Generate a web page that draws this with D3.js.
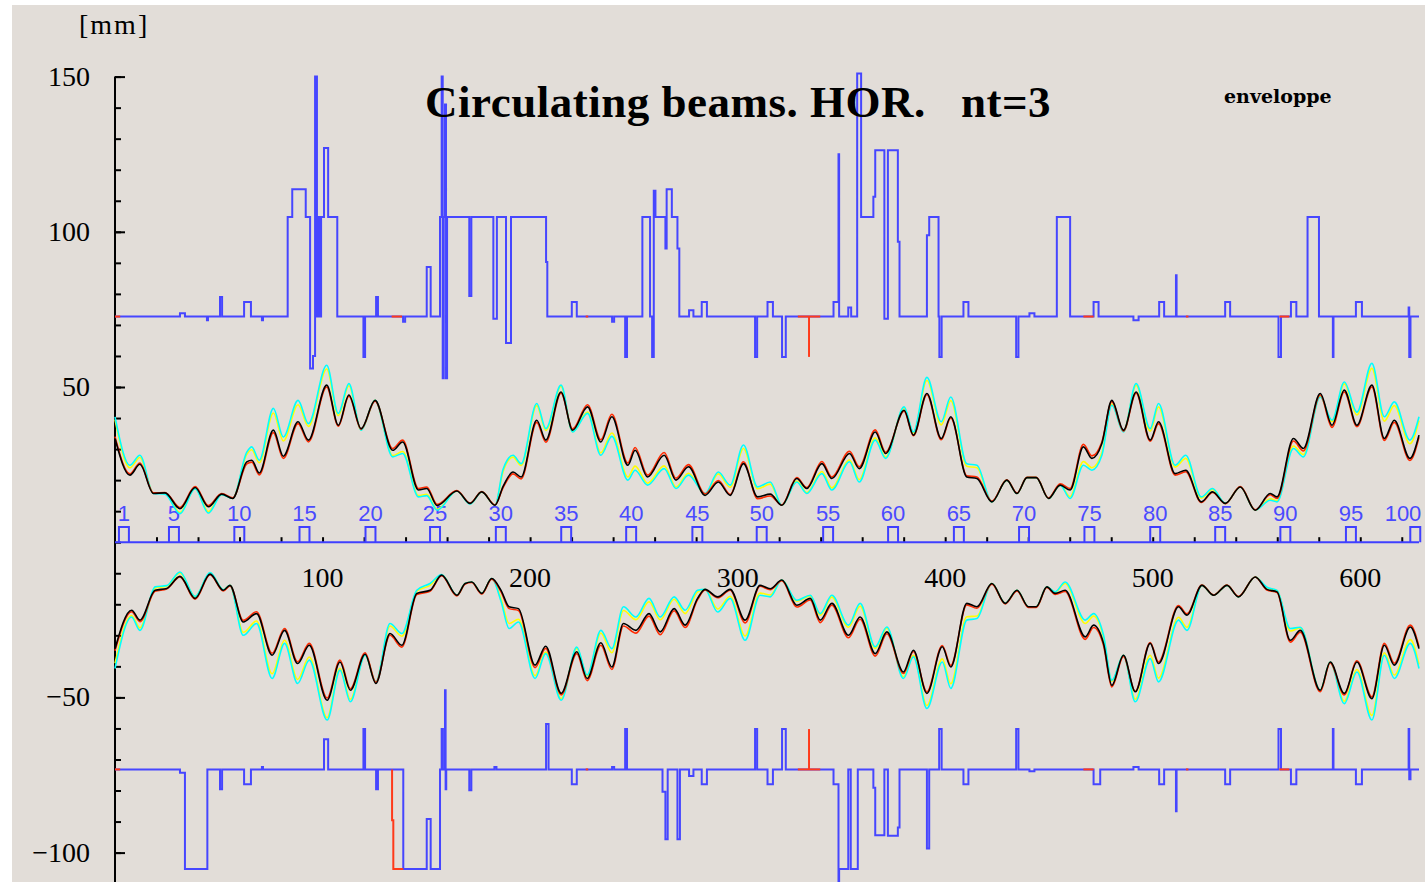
<!DOCTYPE html>
<meta charset="utf-8">
<head>
  <style>
    body { margin: 0; background: #ffffff; }
    .chart text { font-family: "Liberation Serif", "Times New Roman", serif; }
    .elem text { font-family: "Liberation Sans", Arial, sans-serif; }
  </style>
</head>
<body>
  <div class="chart"></div>
  <script src="https://d3js.org/d3.v7.min.js"></script>
  <script>

    // ---- data (positions in m, values in mm) ----
    var sUp = [0, 7.2, 12.0, 18.5, 24.1, 31.3, 38.6, 45.0, 51.4, 56.7, 63.5, 65.9, 69.5, 76.3, 81.1, 88.2, 93.2, 102.0, 107.6, 112.7,
      118.6, 125.3, 133.8, 138.6, 146.2, 150.2, 155.2, 164.7, 171.1, 176.7, 183.1, 187.0, 191.8, 195.7, 203.2, 207.6, 214.9, 220.5, 227.7, 234.1,
      239.4, 247.1, 250.6, 256.6, 264.6, 270.3, 276.3, 284.3, 290.7, 296.4, 302.8, 309.6, 315.7, 321.3, 328.5, 333.3, 340.6, 345.4, 353.9, 358.6,
      366.3, 371.3, 380.2, 384.7, 391.2, 398.1, 402.7, 410.4, 415.3, 422.5, 429.7, 434.6, 439.4, 443.9, 449.8, 455.4, 460.2, 466.6, 470.7, 475.5,
      480.3, 485.9, 492.0, 498.8, 502.8, 510.8, 515.9, 523.4, 528.8, 535.0, 542.2, 549.4, 556.6, 559.9, 567.8, 572.6, 580.7, 586.4, 592.3, 598.4,
      605.6, 611.6, 616.4, 623.9, 628.3];
    var upBlack = [33.4, 21.6, 25.1, 15.7, 15.9, 10.8, 17.6, 11.4, 15.5, 14.1, 25.9, 26.4, 22.3, 36.1, 27.7, 38.8, 32.9, 50.6, 37.7, 47.4,
      36.6, 45.7, 29.6, 32.3, 16.8, 17.3, 11.8, 16.5, 12.5, 16.2, 11.9, 18.0, 22.6, 21.0, 39.3, 32.9, 48.4, 36.1, 43.6, 32.3,
      40.4, 24.8, 29.6, 21.0, 28.0, 20.0, 24.3, 15.1, 19.4, 15.1, 25.3, 14.6, 15.5, 11.9, 20.5, 17.3, 25.3, 20.5, 28.6, 23.7,
      35.5, 28.6, 42.5, 34.5, 47.9, 33.4, 40.4, 21.0, 20.5, 13.0, 20.0, 15.7, 20.8, 20.8, 14.1, 18.4, 16.8, 30.7, 27.0, 31.8,
      45.7, 36.1, 48.4, 32.9, 38.8, 22.1, 23.2, 13.0, 16.2, 12.5, 17.8, 10.3, 15.7, 14.6, 33.4, 30.2, 47.9, 37.7, 49.0, 37.7,
      50.6, 33.4, 39.3, 27.0, 34.5];
    var upRed = [34.0, 22.0, 25.5, 15.9, 16.0, 11.2, 17.9, 11.8, 15.7, 14.3, 25.2, 25.8, 21.7, 35.3, 27.0, 38.2, 32.3, 50.0, 37.4, 47.0,
      36.4, 45.4, 30.2, 32.9, 17.3, 17.8, 12.2, 16.6, 12.6, 16.3, 12.0, 17.6, 22.0, 20.4, 38.6, 32.2, 48.0, 36.5, 44.3, 33.0,
      41.2, 25.5, 30.5, 21.6, 28.9, 20.6, 25.0, 15.6, 19.9, 15.4, 25.9, 14.0, 14.9, 12.0, 20.8, 17.6, 26.0, 21.0, 29.3, 24.3,
      36.2, 29.0, 42.2, 34.3, 47.5, 33.0, 40.0, 21.4, 21.0, 13.2, 20.1, 15.8, 20.9, 20.9, 14.2, 18.8, 17.3, 31.5, 27.8, 32.3,
      45.3, 35.8, 48.0, 32.5, 38.2, 21.6, 22.7, 12.8, 16.0, 12.4, 17.9, 10.4, 15.3, 14.1, 32.6, 29.4, 47.4, 37.0, 48.4, 37.2,
      50.0, 32.8, 38.6, 26.3, 33.8];
    var upYellow = [39.5, 24.0, 27.3, 15.8, 15.7, 9.6, 17.3, 9.9, 15.4, 14.1, 28.3, 29.8, 25.6, 41.6, 32.6, 44.3, 37.3, 55.8, 40.8, 50.4,
      36.2, 45.7, 27.9, 29.2, 15.0, 15.4, 10.6, 16.5, 12.4, 16.2, 11.9, 22.8, 27.4, 24.7, 44.0, 36.0, 50.2, 35.6, 41.9, 28.8,
      35.2, 21.0, 24.5, 19.0, 24.6, 17.8, 22.2, 15.5, 22.0, 17.7, 30.2, 17.2, 18.7, 11.9, 19.7, 16.0, 22.8, 17.5, 26.5, 20.2,
      33.6, 27.4, 43.3, 35.2, 52.1, 37.8, 45.6, 24.5, 24.0, 13.0, 20.0, 15.7, 20.8, 20.8, 14.1, 18.4, 14.7, 26.0, 24.0, 28.8,
      44.5, 35.7, 50.5, 35.8, 43.6, 24.2, 27.0, 14.2, 17.0, 12.5, 17.8, 10.3, 14.0, 13.3, 31.0, 28.2, 47.0, 38.8, 51.0, 41.0,
      56.0, 39.0, 44.0, 31.7, 39.2];
    var upCyan = [40.4, 24.8, 28.0, 15.7, 15.5, 9.2, 17.2, 9.4, 15.3, 14.1, 29.0, 30.7, 26.4, 43.1, 33.9, 45.7, 38.2, 57.0, 41.5, 51.1,
      36.1, 45.7, 27.5, 28.6, 14.6, 15.0, 10.3, 16.5, 12.3, 16.2, 11.9, 23.5, 28.0, 25.3, 44.7, 36.6, 50.6, 35.5, 41.5, 28.0,
      34.1, 20.0, 23.2, 18.4, 23.7, 17.3, 21.6, 15.7, 22.6, 18.4, 31.3, 17.8, 19.4, 11.9, 19.4, 15.7, 22.1, 16.8, 25.9, 19.4,
      32.9, 27.0, 43.6, 35.5, 53.1, 38.8, 46.8, 25.3, 24.8, 13.0, 20.0, 15.7, 20.8, 20.8, 14.1, 18.4, 14.1, 24.8, 23.2, 28.0,
      44.1, 35.5, 51.1, 36.6, 44.7, 24.8, 28.0, 14.6, 17.3, 12.5, 17.8, 10.3, 13.5, 13.0, 30.2, 27.5, 46.8, 39.3, 51.6, 41.9,
      57.6, 40.4, 45.2, 32.9, 40.4];

    var sLow = [0, 8.0, 12.0, 19.3, 24.9, 31.3, 38.6, 45.8, 52.2, 55.4, 61.8, 68.2, 75.7, 81.7, 88.0, 93.6, 102.2, 108.4, 113.4, 120.5,
      125.7, 132.5, 138.2, 145.4, 151.8, 157.4, 164.7, 168.7, 171.9, 176.7, 181.5, 186.0, 189.9, 194.4, 202.4, 207.5, 215.0, 222.5, 227.5, 234.1,
      239.4, 245.0, 251.0, 257.3, 262.7, 269.4, 274.7, 280.7, 284.3, 290.4, 296.4, 303.6, 310.8, 315.7, 321.3, 328.5, 335.0, 339.8, 345.4, 353.4,
      359.0, 366.3, 371.9, 379.9, 384.7, 391.2, 398.6, 402.7, 410.4, 415.3, 422.5, 428.9, 434.6, 440.1, 443.9, 449.0, 453.0, 457.8, 467.5, 471.5,
      476.3, 480.3, 485.9, 491.6, 498.8, 502.8, 512.4, 516.5, 523.7, 529.3, 535.8, 541.3, 549.4, 555.0, 559.9, 566.3, 571.1, 580.7, 585.5, 592.3,
      598.4, 605.6, 611.6, 616.4, 624.1, 628.3];
    var lowBlack = [-34.3, -21.9, -25.1, -15.5, -14.9, -11.0, -18.1, -10.3, -15.5, -13.9, -25.7, -23.0, -36.4, -28.4, -39.1, -33.2, -50.9, -38.6, -47.7, -36.1,
      -45.5, -29.4, -33.2, -16.5, -15.5, -10.6, -17.1, -13.3, -12.8, -16.5, -11.7, -15.5, -20.8, -21.4, -39.6, -33.5, -48.7, -35.3, -43.9, -32.4,
      -40.2, -26.2, -28.4, -23.0, -28.9, -21.4, -26.7, -18.1, -15.2, -17.6, -15.2, -25.1, -13.9, -15.0, -12.2, -20.3, -18.1, -25.1, -19.7, -30.0,
      -24.1, -35.9, -28.9, -41.8, -34.8, -48.7, -33.7, -40.2, -19.7, -20.8, -13.3, -19.7, -15.5, -20.8, -20.8, -14.4, -16.5, -15.5, -30.5, -26.7,
      -32.6, -46.1, -36.4, -48.2, -32.6, -39.1, -20.8, -23.5, -13.9, -17.1, -13.9, -17.6, -11.2, -15.2, -16.0, -31.6, -28.4, -47.7, -38.6, -48.7,
      -38.6, -50.4, -33.2, -39.6, -27.3, -34.3];
    var lowRed = [-35.0, -22.4, -25.6, -15.8, -15.1, -11.2, -18.4, -10.5, -15.7, -14.1, -25.2, -22.4, -35.8, -27.8, -38.5, -32.6, -50.2, -38.0, -47.2, -35.6,
      -45.1, -30.0, -33.8, -16.9, -15.8, -10.8, -17.3, -13.5, -13.0, -16.7, -11.9, -16.0, -21.4, -22.0, -40.4, -34.2, -49.2, -35.9, -44.6, -33.2,
      -41.0, -27.0, -29.3, -23.8, -29.8, -22.1, -27.5, -18.5, -15.4, -17.9, -15.5, -26.0, -14.2, -15.3, -12.4, -20.9, -18.6, -25.9, -20.3, -30.8,
      -24.8, -36.7, -29.5, -42.3, -35.2, -48.2, -33.3, -39.7, -20.2, -21.3, -13.5, -19.9, -15.7, -21.0, -21.0, -14.6, -16.8, -15.9, -31.3, -27.5,
      -33.3, -46.6, -36.8, -48.0, -32.3, -38.6, -20.4, -23.1, -13.8, -17.0, -13.8, -17.5, -11.2, -15.4, -16.2, -32.2, -29.0, -48.2, -38.9, -49.2,
      -38.2, -49.8, -32.6, -39.0, -26.7, -33.7];
    var lowYellow = [-39.0, -23.6, -27.6, -14.8, -14.2, -9.9, -17.6, -9.9, -15.4, -13.9, -29.0, -25.4, -42.4, -31.6, -44.2, -37.0, -56.5, -40.6, -50.6, -36.3,
      -45.1, -27.0, -30.3, -15.8, -13.9, -10.5, -17.1, -13.3, -12.8, -16.5, -11.7, -18.2, -26.2, -24.8, -43.0, -35.4, -50.4, -34.2, -43.1, -29.3,
      -35.6, -22.0, -25.0, -19.2, -25.0, -18.4, -23.0, -16.0, -15.2, -21.5, -17.4, -30.2, -16.4, -17.0, -12.2, -19.0, -17.3, -23.5, -17.7, -27.4,
      -20.6, -34.2, -27.7, -43.4, -36.4, -52.6, -37.6, -45.6, -24.0, -23.8, -13.3, -19.7, -15.5, -20.8, -20.8, -14.4, -16.1, -13.3, -26.2, -23.8,
      -30.6, -44.8, -36.4, -50.6, -36.4, -43.8, -24.2, -27.4, -13.9, -17.1, -13.9, -17.6, -11.2, -14.7, -15.6, -28.6, -27.6, -47.7, -38.6, -51.2,
      -41.0, -55.8, -35.6, -42.8, -31.4, -39.4];
    var lowCyan = [-40.7, -24.1, -28.4, -14.4, -14.0, -9.6, -17.5, -9.8, -15.3, -13.9, -30.0, -26.2, -43.9, -32.6, -45.5, -38.0, -57.3, -41.2, -51.4, -36.4,
      -45.0, -26.2, -29.4, -15.5, -13.3, -10.4, -17.1, -13.3, -12.8, -16.5, -11.7, -19.0, -27.8, -25.7, -43.9, -35.9, -50.9, -33.8, -42.8, -28.4,
      -34.3, -20.8, -24.1, -18.1, -24.1, -17.6, -21.9, -15.5, -15.2, -22.5, -18.1, -31.6, -17.1, -17.6, -12.2, -18.7, -17.1, -23.0, -17.1, -26.7,
      -19.7, -33.7, -27.3, -43.9, -36.9, -53.6, -38.6, -47.1, -25.1, -24.6, -13.3, -19.7, -15.5, -20.8, -20.8, -14.4, -16.0, -12.8, -25.1, -23.0,
      -30.0, -44.5, -36.4, -51.4, -37.5, -45.0, -25.1, -28.4, -13.9, -17.1, -13.9, -17.6, -11.2, -14.5, -15.5, -27.8, -27.4, -47.7, -38.6, -52.0,
      -41.8, -57.3, -36.4, -43.9, -32.6, -40.7];

    // aperture (blue step lines), [s, mm] with step-after
    var apUpper = [[0, 72.7], [31.3, 73.8], [33.7, 72.7], [44.3, 71.5], [44.8, 72.7], [50.6, 79], [51.6, 72.7], [62.2, 77.4], [65.5, 72.7],
      [70.8, 71.5], [71.3, 72.7], [83.2, 104.8], [85.4, 113.7], [91.9, 104.8], [94.0, 56], [95.4, 60], [96.4, 150], [97.3, 72.7],
      [98.0, 104.8], [98.8, 72.7], [99.3, 104.8], [100.7, 127], [102.7, 104.8], [107.1, 72.7], [119.7, 59.7], [120.5, 72.7],
      [125.8, 79], [126.7, 72.7], [138.8, 71], [139.8, 72.7], [150.2, 88.7], [152.1, 72.7], [156.6, 104.8], [157.4, 150], [157.9, 52.8],
      [158.4, 104.8], [159.0, 141], [159.5, 52.8], [160.0, 104.8], [170.7, 79.3], [171.7, 104.8], [182.3, 72], [184.0, 104.8],
      [188.4, 64.2], [190.8, 104.8], [207.7, 90.3], [208.3, 72.7], [220.1, 77.4], [222.5, 72.7], [239.5, 71], [240.5, 72.7],
      [245.8, 59.7], [246.7, 72.7], [254.1, 104.8], [257.8, 72.7], [258.8, 59.7], [259.6, 113.2], [260.4, 104.8], [265.2, 94.6],
      [265.8, 113.7], [268.3, 104.8], [271.0, 94.6], [271.9, 72.7], [276.6, 74.7], [278.7, 72.7], [282.7, 77.4], [285.2, 72.7],
      [308.4, 59.7], [309.4, 72.7], [314.4, 77.4], [317.0, 72.7], [321.4, 59.7], [323.2, 72.7], [346.2, 77.4], [348.6, 125],
      [348.9, 72.7], [353.3, 75.6], [354.7, 72.7], [357.6, 151], [359.5, 104.8], [365.4, 111.3], [366.3, 126.3], [370.7, 72],
      [372.4, 126.3], [377.2, 96.8], [378.0, 72.7], [391.2, 98.9], [392.3, 104.8], [396.8, 72.7], [397.2, 59.7], [398.3, 72.7],
      [408.8, 77.4], [411.2, 72.7], [434.2, 59.7], [435.3, 72.7], [440.6, 73.8], [443.0, 72.7], [453.8, 104.8], [460.2, 72.7],
      [471.5, 77.4], [473.9, 72.7], [490.7, 71.5], [493.2, 72.7], [503.1, 77.4], [505.5, 72.7], [511.2, 86], [511.5, 72.7],
      [534.9, 77.4], [537.3, 72.7], [560.6, 59.7], [561.8, 72.7], [566.6, 77.4], [569.2, 72.7], [574.6, 104.8], [580.1, 72.7],
      [586.8, 59.7], [587.1, 72.7], [597.9, 77.4], [600.8, 72.7], [623.3, 75.6], [623.6, 59.7], [624.2, 72.7], [628.3, 72.7]];
    var apLower = [[0, -73.2], [31.3, -74.3], [33.7, -105.3], [44.5, -73.2], [50.6, -79.6], [51.6, -73.2], [62.2, -78], [65.5, -73.2],
      [70.8, -72.4], [71.3, -73.2], [100.7, -63.5], [102.7, -73.2], [119.7, -60.2], [120.5, -73.2], [125.8, -79.6], [126.7, -73.2],
      [138.9, -105.3], [150.2, -89.2], [152.1, -105.3], [156.6, -73.2], [157.4, -60.2], [158.0, -73.2], [159.0, -47.7], [159.3, -79.6],
      [159.6, -73.2], [170.7, -79.9], [171.7, -73.2], [182.8, -72.4], [183.8, -73.2], [207.7, -58.6], [208.9, -73.2], [220.1, -78],
      [222.5, -73.2], [239.5, -72.4], [240.5, -73.2], [245.8, -60.2], [246.7, -73.2], [263.8, -80.4], [265.2, -95.7], [266.3, -73.2],
      [271.0, -95.7], [272.2, -73.2], [276.6, -75.3], [278.7, -73.2], [282.7, -78], [285.2, -73.2], [308.4, -60.2], [309.4, -73.2],
      [314.4, -78], [317.0, -73.2], [321.4, -60.2], [323.2, -73.2], [346.2, -78], [348.6, -112], [348.9, -105.3], [353.3, -73.2],
      [354.5, -105.3], [357.9, -73.2], [365.4, -79.1], [366.3, -94.4], [370.7, -73.2], [372.4, -94.6], [377.2, -91.9], [378.0, -73.2],
      [391.2, -98.7], [392.3, -73.2], [397.1, -60.2], [398.3, -73.2], [408.8, -78], [411.2, -73.2], [434.2, -60.2], [435.3, -73.2],
      [440.6, -73.8], [443.0, -73.2], [471.5, -78], [474.7, -73.2], [490.7, -72.4], [493.2, -73.2], [503.1, -78], [505.5, -73.2],
      [511.2, -86.7], [511.5, -73.2], [534.9, -78], [537.3, -73.2], [560.6, -60.2], [561.8, -73.2], [566.6, -78], [569.2, -73.2],
      [586.8, -60.2], [587.1, -73.2], [597.9, -78], [600.8, -73.2], [623.3, -60.2], [623.6, -76.4], [624.2, -73.2], [628.3, -73.2]];

    // red aperture pieces that show from under the blue one
    var apRedUpper = [[[0, 72.7], [2.5, 72.7]], [[133.3, 72.7], [138.3, 72.7]], [[226.8, 72.7], [228.0, 72.7]],
      [[329.0, 72.7], [339.8, 72.7]], [[334.4, 72.7], [334.4, 59.7]], [[466.6, 72.7], [471.5, 72.7]],
      [[516.0, 72.7], [517.2, 72.7]], [[561.0, 72.7], [565.8, 72.7]]];
    var apRedLower = [[[0, -73.2], [2.5, -73.2]], [[133.5, -73.2], [133.5, -89.6], [134.1, -89.6], [134.1, -105.3], [138.9, -105.3]],
      [[226.8, -73.2], [228.0, -73.2]], [[329.0, -73.2], [339.8, -73.2]], [[334.4, -73.2], [334.4, -60.2]],
      [[466.6, -73.2], [471.5, -73.2]], [[516.0, -73.2], [517.2, -73.2]], [[561.0, -73.2], [565.8, -73.2]]];

    var elemLabels = [1, 5, 10, 15, 20, 25, 30, 35, 40, 45, 50, 55, 60, 65, 70, 75, 80, 85, 90, 95, 100];
    var elemCenters = [4.3, 28.4, 59.9, 91.3, 123.1, 154.2, 185.9, 217.4, 248.7, 280.6, 311.6, 343.6, 374.9, 406.6, 438.0,
      469.5, 501.2, 532.5, 563.9, 595.5, 626.5];
    var posLabels = [100, 200, 300, 400, 500, 600];
    var yLabels = [150, 100, 50, -50, -100];

    var width = 1425, height = 882;

    var svg = d3.select(".chart").append("svg")
      .attr("width", width)
      .attr("height", height);

    svg.append("rect").attr("width", width).attr("height", height).attr("fill", "#e2ddd8");
    // white margin of the slide
    svg.append("rect").attr("width", 12).attr("height", height).attr("fill", "#ffffff");
    svg.append("rect").attr("width", width).attr("height", 5).attr("fill", "#ffffff");

    var x = d3.scaleLinear().domain([0, 628.3]).range([115, 1419]);
    var y = d3.scaleLinear().domain([-100, 150]).range([852.6, 76.6]);

    var smooth = d3.line().x(function(d) { return x(d[0]); }).y(function(d) { return y(d[1]); }).curve(d3.curveMonotoneX);
    var step = d3.line().x(function(d) { return x(d[0]); }).y(function(d) { return y(d[1]); }).curve(d3.curveStepAfter);
    var plain = d3.line().x(function(d) { return x(d[0]); }).y(function(d) { return y(d[1]); });

    // y axis
    svg.append("line").attr("x1", 115).attr("x2", 115).attr("y1", y(150)).attr("y2", height)
      .attr("stroke", "#000").attr("stroke-width", 2);
    svg.append("g").attr("transform", "translate(115,0)")
      .call(d3.axisRight(y).tickValues(d3.range(-100, 151, 10)).tickSize(6).tickSizeOuter(0).tickFormat(""));
    svg.append("g").attr("transform", "translate(115,0)")
      .call(d3.axisRight(y).tickValues([-100, -50, 50, 100, 150]).tickSize(10).tickSizeOuter(0).tickFormat(""));
    svg.selectAll(".domain").remove();
    svg.selectAll(".tick line").attr("stroke", "#000").attr("stroke-width", 2);

    svg.selectAll(".ylab")
      .data(yLabels)
      .enter().append("text")
      .attr("class", "ylab")
      .attr("x", 90)
      .attr("y", function(d) { return y(d) + 9; })
      .attr("text-anchor", "end")
      .attr("font-size", 28)
      .text(function(d) { return d < 0 ? "\u2212" + Math.abs(d) : d; });

    svg.append("text").attr("x", 79).attr("y", 34).attr("font-size", 28)
      .attr("letter-spacing", 2).text("[mm]");

    // position axis (black ticks on the blue zero line)
    var xAx = svg.append("g").attr("transform", "translate(0," + y(0) + ")")
      .call(d3.axisTop(x).tickValues(d3.range(20, 628, 20)).tickSize(5).tickSizeOuter(0).tickFormat(""));
    xAx.select(".domain").remove();
    xAx.selectAll(".tick line").attr("stroke", "#000").attr("stroke-width", 2);

    svg.selectAll(".plab")
      .data(posLabels)
      .enter().append("text")
      .attr("class", "plab")
      .attr("x", function(d) { return x(d); })
      .attr("y", 587)
      .attr("text-anchor", "middle")
      .attr("font-size", 28)
      .text(function(d) { return d; });

    // element markers
    var elem = svg.append("g").attr("class", "elem");
    elem.selectAll("path")
      .data(elemCenters)
      .enter().append("path")
      .attr("d", function(d) {
        return plain([[d - 2.4, 0], [d - 2.4, 4.9], [d + 2.4, 4.9], [d + 2.4, 0]]);
      })
      .attr("fill", "none")
      .attr("stroke", "#3f3fff")
      .attr("stroke-width", 2);
    elem.selectAll("text")
      .data(elemLabels)
      .enter().append("text")
      .attr("x", function(d, i) { return Math.min(x(elemCenters[i]), 1403); })
      .attr("y", 521)
      .attr("text-anchor", "middle")
      .attr("font-size", 22)
      .attr("fill", "#4a4aff")
      .text(function(d) { return d; });

    svg.append("line").attr("x1", x(0)).attr("x2", x(628.3)).attr("y1", y(0)).attr("y2", y(0))
      .attr("stroke", "#3f3fff").attr("stroke-width", 2);

    // beam envelopes
    var curves = [
      { s: sUp, v: upYellow, c: "#ffff00" },
      { s: sUp, v: upCyan, c: "#00ffff" },
      { s: sUp, v: upRed, c: "#ff2a00" },
      { s: sUp, v: upBlack, c: "#000000" },
      { s: sLow, v: lowYellow, c: "#ffff00" },
      { s: sLow, v: lowCyan, c: "#00ffff" },
      { s: sLow, v: lowRed, c: "#ff2a00" },
      { s: sLow, v: lowBlack, c: "#000000" }
    ];
    svg.selectAll(".env")
      .data(curves)
      .enter().append("path")
      .attr("class", "env")
      .attr("d", function(d) { return smooth(d3.zip(d.s, d.v)); })
      .attr("fill", "none")
      .attr("stroke", function(d) { return d.c; })
      .attr("stroke-width", 1.6);

    // apertures
    svg.selectAll(".ap")
      .data([apUpper, apLower])
      .enter().append("path")
      .attr("class", "ap")
      .attr("d", step)
      .attr("fill", "none")
      .attr("stroke", "#4646ff")
      .attr("stroke-width", 2);
    svg.selectAll(".apred")
      .data(apRedUpper.concat(apRedLower))
      .enter().append("path")
      .attr("class", "apred")
      .attr("d", plain)
      .attr("fill", "none")
      .attr("stroke", "#ff3a1a")
      .attr("stroke-width", 2);

    // titles
    svg.append("text")
      .attr("x", 425).attr("y", 117)
      .attr("font-size", 45)
      .attr("font-weight", "bold")
      .attr("letter-spacing", 0.5)
      .style("white-space", "pre")
      .text("Circulating beams. HOR.   nt=3");
    svg.append("text")
      .attr("x", 1224).attr("y", 103)
      .attr("font-size", 19)
      .attr("font-weight", "bold")
      .style("font-family", "'DejaVu Serif', serif")
      .text("enveloppe");
  </script>
</body>
